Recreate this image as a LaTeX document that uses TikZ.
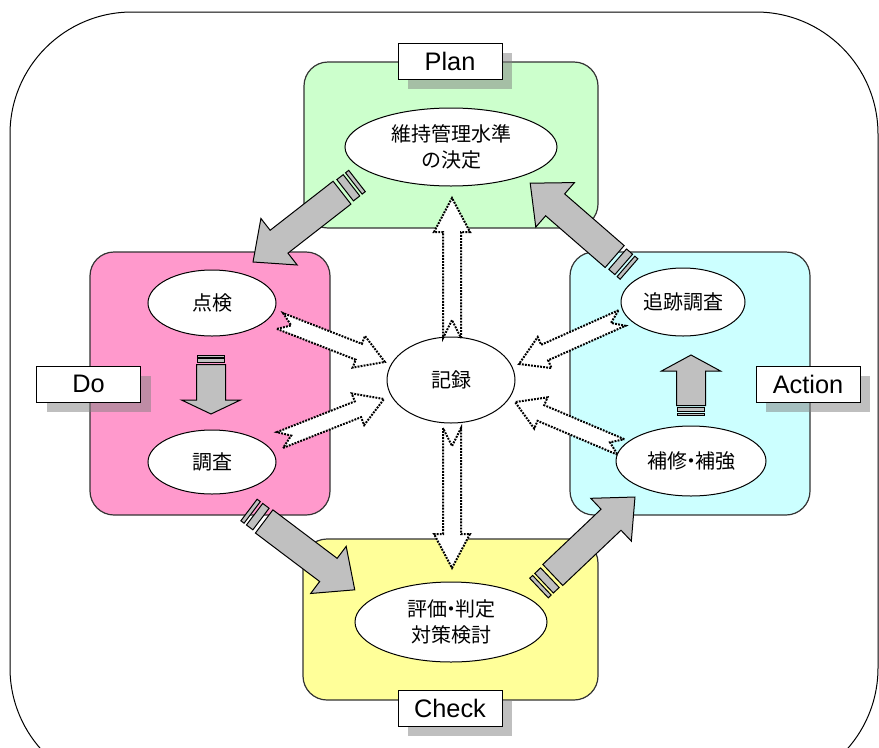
\documentclass[tikz,border=0pt]{standalone}
\usepackage{fontspec}
\setmainfont{Liberation Sans}
\newfontfamily\jp{Noto Sans CJK JP}
\usetikzlibrary{calc,shadows,shapes.geometric}
\definecolor{cPlan}{HTML}{CCFFCC}
\definecolor{cDo}{HTML}{FF99CC}
\definecolor{cAct}{HTML}{CCFFFF}
\definecolor{cChk}{HTML}{FFFF99}
\definecolor{cGray}{HTML}{C0C0C0}
\newcommand{\ndot}{\kern-0.3em・\kern-0.3em}
\tikzset{
  phasebox/.style={draw=black!80, line width=0.9pt, rounded corners=18pt},
  ell/.style={ellipse, draw=black, fill=white, line width=0.75pt, inner sep=0pt,
    align=center, font=\jp\fontsize{15}{19.5}\selectfont},
  lab/.style={draw=black, fill=white, line width=0.75pt, minimum width=78pt, minimum height=27pt,
    inner sep=0pt, font=\fontsize{19}{22}\selectfont,
    drop shadow={shadow xshift=7.5pt, shadow yshift=-7.5pt}},
  gblock/.style={fill=cGray, draw=black, line width=0.75pt, line join=miter},
  dblock/.style={fill=white, draw=black, line width=1.5pt, dash pattern=on 1.4pt off 0.9pt},
}
% computes angle and length (in px) between two named coordinates
\newcommand{\measure}[2]{%
  \path let \p1=(#1), \p2=(#2), \n1={atan2(\y2-\y1,\x2-\x1)}, \n2={veclen(\x2-\x1,\y2-\y1)} in
    \pgfextra{\pgfmathsetmacro\mAng{\n1}\pgfmathsetmacro\mLen{\n2/0.75}%
      \global\let\mAng\mAng\global\let\mLen\mLen};}
% gray block arrow with striped tail: #1 tail, #2 tip, #3 head length, #4 stripe scale
\newcommand{\grayarrow}[4]{%
  \measure{#1}{#2}%
  \begin{scope}[shift={(#1)}, rotate=\mAng, x=0.75pt, y=0.75pt]
    \filldraw[gblock] (0,-13.5) rectangle ({4*#4},13.5);
    \filldraw[gblock] ({7*#4},-13.5) rectangle ({15*#4},13.5);
    \filldraw[gblock] ({19*#4},-14.5) -- ({\mLen-#3},-14.5) -- ({\mLen-#3},-29.5) -- (\mLen,0)
      -- ({\mLen-#3},29.5) -- ({\mLen-#3},14.5) -- ({19*#4},14.5) -- cycle;
  \end{scope}}
% dotted notched arrow: #1 tail, #2 tip, #3 head length, #4 shaft half, #5 head half, #6 notch
\newcommand{\dotarrow}[6]{%
  \measure{#1}{#2}%
  \begin{scope}[shift={(#1)}, rotate=\mAng, x=0.75pt, y=0.75pt]
    \filldraw[dblock] (0,-#4) -- ({\mLen-#3},-#4) -- ({\mLen-#3},-#5) -- (\mLen,0)
      -- ({\mLen-#3},#5) -- ({\mLen-#3},#4) -- (0,#4) -- (#6,0) -- cycle;
  \end{scope}}
\begin{document}
\begin{tikzpicture}[x=0.75pt, y=-0.75pt]
\useasboundingbox (0,0) rectangle (879,747);
% outer frame
\begin{scope}
  \clip (0,0) rectangle (879,747);
  \draw[line width=0.75pt, rounded corners=91.5pt] (10,12) rectangle (878,790);
\end{scope}
% phase boxes
\draw[phasebox, fill=cPlan] (304,62) rectangle (598,228);
\draw[phasebox, fill=cDo] (90,252) rectangle (330,515);
\draw[phasebox, fill=cAct] (570,252) rectangle (810,515);
\draw[phasebox, fill=cChk] (303,539) rectangle (598,700);
% labels
\node[lab] (lPlan) at (450,61) {Plan};
\node[lab] (lDo) at (88.5,384) {Do};
\node[lab] (lAct) at (808,384) {Action};
\node[lab] (lChk) at (450,708) {Check};
% ellipses
\node[ell, minimum width=159pt, minimum height=58.5pt] (ePlan) at (451,147) {維持管理水準\\の決定};
\node[ell, minimum width=96pt, minimum height=49.5pt] (eTen) at (212,303) {点検};
\node[ell, minimum width=96pt, minimum height=48pt] (eCho) at (212,462) {調査};
\node[ell, minimum width=96pt, minimum height=64.5pt] (eKir) at (451,380) {記録};
\node[ell, minimum width=93pt, minimum height=51pt] (eTsu) at (683,302) {追跡調査};
\node[ell, minimum width=112.5pt, minimum height=52.5pt] (eHos) at (691,461) {補修\ndot 補強};
\node[ell, minimum width=144pt, minimum height=60pt] (eChk) at (451,622) {評価\ndot 判定\\対策検討};
% arrow end points
\coordinate (g1t) at (357,181); \coordinate (g1h) at (253,262);
\coordinate (g2t) at (249,510); \coordinate (g2h) at (355,590);
\coordinate (g3t) at (539,588); \coordinate (g3h) at (635,497);
\coordinate (g4t) at (629,269); \coordinate (g4h) at (530,183);
\coordinate (g5t) at (211,355); \coordinate (g5h) at (211,414);
\coordinate (g6t) at (691,415); \coordinate (g6h) at (691,355);
\coordinate (d1t) at (452,338); \coordinate (d1h) at (452,198);
\coordinate (d2t) at (452,428); \coordinate (d2h) at (452,568);
\coordinate (d3t) at (280,321); \coordinate (d3h) at (385,362);
\coordinate (d4t) at (280,440); \coordinate (d4h) at (384,399);
\coordinate (d5t) at (622,318); \coordinate (d5h) at (519,364);
\coordinate (d6t) at (621,447); \coordinate (d6h) at (515,402);
% gray arrows
\grayarrow{g1t}{g1h}{33}{1}
\grayarrow{g2t}{g2h}{33}{1}
\grayarrow{g3t}{g3h}{33}{1}
\grayarrow{g4t}{g4h}{33}{1}
\grayarrow{g5t}{g5h}{14}{0.5}
\grayarrow{g6t}{g6h}{16}{0.5}
% dotted arrows
\dotarrow{d1t}{d1h}{34}{9}{18}{18}
\dotarrow{d2t}{d2h}{34}{9}{18}{18}
\dotarrow{d3t}{d3h}{28}{8.5}{17}{12}
\dotarrow{d4t}{d4h}{28}{8.5}{17}{12}
\dotarrow{d5t}{d5h}{28}{8.5}{17}{12}
\dotarrow{d6t}{d6h}{28}{8.5}{17}{12}
\end{tikzpicture}
\end{document}
